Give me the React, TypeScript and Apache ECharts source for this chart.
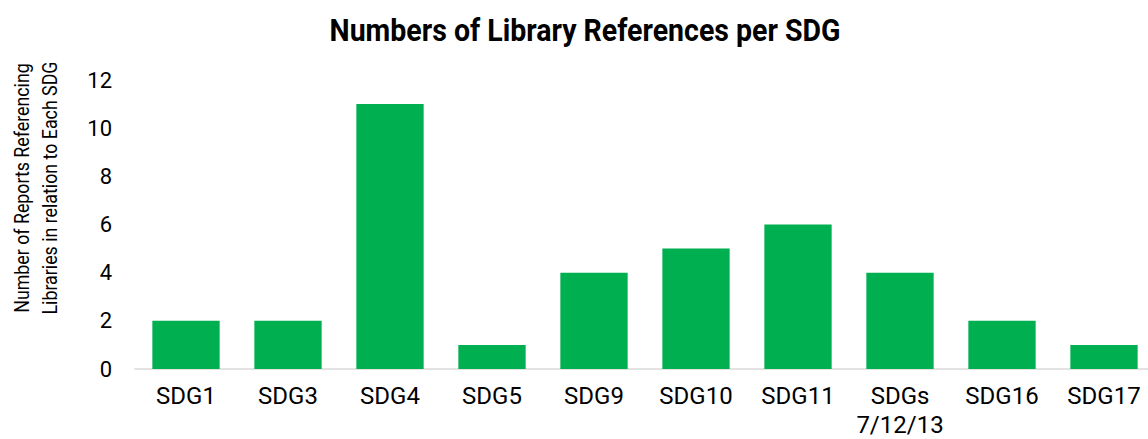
import React, { useEffect, useRef } from "react";
import * as echarts from "echarts";

const categories = ["SDG1", "SDG3", "SDG4", "SDG5", "SDG9", "SDG10", "SDG11", "SDGs\n7/12/13", "SDG16", "SDG17"];
const values = [2, 2, 11, 1, 4, 5, 6, 4, 2, 1];
const titleText = "Numbers of Library References per SDG";
const yAxisName = "Number of Reports Referencing\nLibraries in relation to Each SDG";

export default function App() {
  const ref = useRef<HTMLDivElement>(null);
  useEffect(() => {
    if (!ref.current) return;
    const chart = echarts.init(ref.current, undefined, { renderer: "svg" });
    chart.setOption({
      animation: false,
      graphic: [
        {
          type: "text",
          x: 585,
          y: 30,
          scaleX: 0.92,
          style: {
            text: titleText,
            font: "bold 31px Roboto, sans-serif",
            fill: "#000",
            align: "center",
            verticalAlign: "middle",
          },
        },
        {
          type: "text",
          x: 36,
          y: 188,
          rotation: Math.PI / 2,
          scaleX: 0.89,
          style: {
            text: yAxisName,
            font: "20px Roboto, sans-serif",
            fill: "#000",
            align: "center",
            verticalAlign: "middle",
            lineHeight: 28,
          },
        },
      ],
      grid: { left: 135, right: -7, top: 80, bottom: 70, containLabel: false, outerBoundsMode: "none" },
      xAxis: {
        type: "category",
        data: categories,
        axisLine: { lineStyle: { color: "#d9d9d9", width: 1.5 } },
        axisTick: { show: false },
        axisLabel: {
          color: "#000",
          fontFamily: "Roboto, sans-serif",
          fontSize: 24,
          margin: 12,
          lineHeight: 29,
          interval: 0,
        },
      },
      yAxis: {
        type: "value",
        min: 0,
        max: 12,
        interval: 2,
        axisLine: { show: false },
        axisTick: { show: false },
        splitLine: { show: false },
        axisLabel: {
          color: "#000",
          fontFamily: "Roboto, sans-serif",
          fontSize: 22,
          margin: 23,
        },
      },
      series: [
        {
          type: "bar",
          data: values,
          barWidth: "66%",
          itemStyle: { color: "#00b050" },
        },
      ],
    });
    return () => chart.dispose();
  }, []);
  return <div ref={ref} style={{ width: 1148, height: 439, position: "absolute", left: 0, top: 0 }} />;
}
